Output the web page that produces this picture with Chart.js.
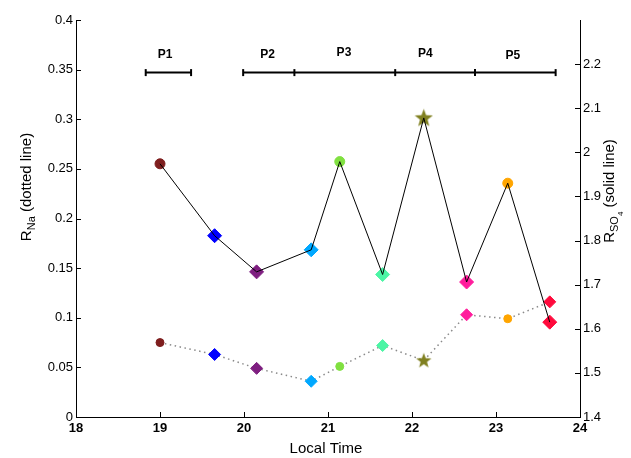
<!DOCTYPE html>
<html lang="en">
<head>
<meta charset="UTF-8">
<title>R_Na and R_SO4 vs local time</title>
<script src="https://cdn.jsdelivr.net/npm/chart.js"></script>
<style>
  body { margin: 0; background: #fff; }
  #wrap { width: 631px; height: 458px; position: relative; }
</style>
</head>
<body>
<div id="wrap"><canvas id="chart"></canvas></div>
<script>
// values
const times = [19.0, 19.65, 20.15, 20.8, 21.14, 21.65, 22.14, 22.65, 23.14, 23.64];
const rNa = [0.075, 0.063, 0.049, 0.036, 0.051, 0.072, 0.057, 0.103, 0.099, 0.116];
const rSO4 = [1.974, 1.811, 1.729, 1.779, 1.979, 1.723, 2.078, 1.706, 1.930, 1.615];
const markerColors = ['#7e1e1e', '#0000ff', '#7e1e80', '#00a8ff', '#80e040',
                      '#4cf5a5', '#808020', '#ff1c9c', '#ffa500', '#ff0a3c'];
const markerShapes = ['circle', 'diamond', 'diamond', 'diamond', 'circle',
                      'diamond', 'star', 'diamond', 'circle', 'diamond'];

// observation periods drawn as bars above the data
const periodBars = [[18.83, 19.37], [19.99, 20.60, 21.80, 22.75, 23.71]];
const periodLevel = 0.347;
const periodNames = ['P1', 'P2', 'P3', 'P4', 'P5'];
const periodLabelTimes = [19.06, 20.28, 21.19, 22.16, 23.20];
const periodLabelLevels = [0.365, 0.365, 0.367, 0.366, 0.364];

const FONT = '"Liberation Sans", Arial, sans-serif';

function makeStar(size, color) {
    const c = document.createElement('canvas');
    c.width = c.height = size;
    const g = c.getContext('2d');
    const R = size / 2, r = R * 0.42;
    g.beginPath();
    for (let i = 0; i < 10; i++) {
        const a = -Math.PI / 2 + i * Math.PI / 5;
        const rr = i % 2 ? r : R;
        g.lineTo(R + rr * Math.cos(a), R + 0.5 + rr * Math.sin(a));
    }
    g.closePath();
    g.fillStyle = color;
    g.fill();
    return c;
}

function styles(big) {
    return markerShapes.map((s, i) => {
        if (s === 'star') return makeStar(big ? 19 : 16, markerColors[i]);
        return s === 'diamond' ? 'rectRot' : 'circle';
    });
}
function radii(big) {
    return markerShapes.map(s => s === 'circle' ? (big ? 5 : 4) : (big ? 7 : 6));
}

const so4Points = times.map((t, i) => ({ x: t, y: rSO4[i] }));
const naPoints = times.map((t, i) => ({ x: t, y: rNa[i] }));
const barPoints = [];
periodBars.forEach((seg, k) => {
    if (k > 0) barPoints.push({ x: (periodBars[k - 1].at(-1) + seg[0]) / 2, y: null });
    seg.forEach(t => barPoints.push({ x: t, y: periodLevel }));
});

function drawRotated(ctx, bx, cy, parts) {
    ctx.save();
    ctx.translate(bx, cy);
    ctx.rotate(-Math.PI / 2);
    let total = 0;
    parts.forEach(p => { ctx.font = p.size + 'px ' + FONT; total += ctx.measureText(p.text).width; });
    let x = -total / 2;
    ctx.fillStyle = '#000';
    ctx.textBaseline = 'alphabetic';
    ctx.textAlign = 'left';
    parts.forEach(p => {
        ctx.font = p.size + 'px ' + FONT;
        ctx.fillText(p.text, x, p.dy || 0);
        x += ctx.measureText(p.text).width;
    });
    ctx.restore();
}

const decor = {
    id: 'decor',
    afterDraw(chart) {
        const { ctx, chartArea: a, scales } = chart;
        ctx.save();
        ctx.strokeStyle = '#000';
        ctx.lineWidth = 1;
        ctx.beginPath();
        scales.x.ticks.forEach(t => {
            const px = Math.round(scales.x.getPixelForValue(t.value)) + 0.5;
            ctx.moveTo(px, a.bottom); ctx.lineTo(px, a.bottom - 5);
        });
        scales.y.ticks.forEach(t => {
            const py = Math.round(scales.y.getPixelForValue(t.value)) + 0.5;
            ctx.moveTo(a.left, py); ctx.lineTo(a.left + 5, py);
        });
        scales.y2.ticks.forEach(t => {
            const py = Math.round(scales.y2.getPixelForValue(t.value)) + 0.5;
            ctx.moveTo(a.right, py); ctx.lineTo(a.right - 5, py);
        });
        ctx.stroke();

        // period labels
        ctx.fillStyle = '#000';
        ctx.font = 'bold 12px ' + FONT;
        ctx.textAlign = 'center';
        ctx.textBaseline = 'middle';
        periodNames.forEach((n, i) => {
            ctx.fillText(n, scales.x.getPixelForValue(periodLabelTimes[i]),
                         scales.y.getPixelForValue(periodLabelLevels[i]));
        });

        // x title
        ctx.font = '15px ' + FONT;
        ctx.textBaseline = 'alphabetic';
        ctx.fillText('Local Time', (a.left + a.right) / 2 - 2, 453);
        ctx.restore();

        drawRotated(ctx, 31, 187, [
            { text: 'R', size: 15 },
            { text: 'Na', size: 11, dy: 4 },
            { text: ' (dotted line)', size: 15 }
        ]);
        drawRotated(ctx, 614, 191, [
            { text: 'R', size: 15 },
            { text: 'SO', size: 11, dy: 4 },
            { text: '4', size: 8, dy: 9 },
            { text: ' (solid line)', size: 15 }
        ]);
    }
};

const noGrid = { drawOnChartArea: false, drawTicks: false };

new Chart(document.getElementById('chart'), {
    type: 'line',
    data: {
        datasets: [
            {
                label: 'R_SO4 line', yAxisID: 'y2', data: so4Points,
                borderColor: '#000', borderWidth: 1, pointRadius: 0, order: 0
            },
            {
                label: 'R_SO4', yAxisID: 'y2', data: so4Points, showLine: false,
                pointStyle: styles(true), pointRadius: radii(true),
                pointBackgroundColor: markerColors, pointBorderColor: markerColors,
                pointBorderWidth: 1, order: 1
            },
            {
                label: 'R_Na', yAxisID: 'y', data: naPoints,
                borderColor: '#8a8a8a', borderWidth: 1.5, borderDash: [1.5, 3.5],
                pointStyle: styles(false), pointRadius: radii(false),
                pointBackgroundColor: markerColors, pointBorderColor: markerColors,
                pointBorderWidth: 1, order: 2
            },
            {
                label: 'periods', yAxisID: 'y', data: barPoints, spanGaps: false,
                borderColor: '#000', borderWidth: 2,
                pointStyle: 'line', pointRotation: 90, pointRadius: 3.5,
                pointBorderColor: '#000', pointBorderWidth: 2, order: 3
            }
        ]
    },
    options: {
        responsive: true,
        maintainAspectRatio: false,
        animation: false,
        events: [],
        layout: { padding: { top: 20, left: 0, right: 0, bottom: 0 } },
        plugins: { legend: { display: false }, tooltip: { enabled: false } },
        scales: {
            x: {
                type: 'linear', min: 18, max: 24,
                ticks: { stepSize: 1, color: '#000', padding: 4,
                         font: { family: FONT, size: 13, weight: 'bold' } },
                grid: noGrid,
                border: { display: true, color: '#000', width: 1 },
                afterFit: s => { s.height = 41; }
            },
            y: {
                position: 'left', min: 0, max: 0.4,
                ticks: { stepSize: 0.05, color: '#000', padding: 3,
                         font: { family: FONT, size: 13 },
                         callback: v => String(+v.toFixed(2)) },
                grid: noGrid,
                border: { display: true, color: '#000', width: 1 },
                afterFit: s => { s.width = 76; }
            },
            y2: {
                position: 'right', min: 1.4, max: 2.3,
                ticks: { stepSize: 0.1, color: '#000', padding: 3,
                         font: { family: FONT, size: 13 },
                         callback: v => String(+v.toFixed(2)) },
                afterBuildTicks: s => { s.ticks = s.ticks.filter(t => t.value < 2.25); },
                grid: noGrid,
                border: { display: true, color: '#000', width: 1 },
                afterFit: s => { s.width = 51; }
            }
        }
    },
    plugins: [decor]
});
</script>
</body>
</html>
